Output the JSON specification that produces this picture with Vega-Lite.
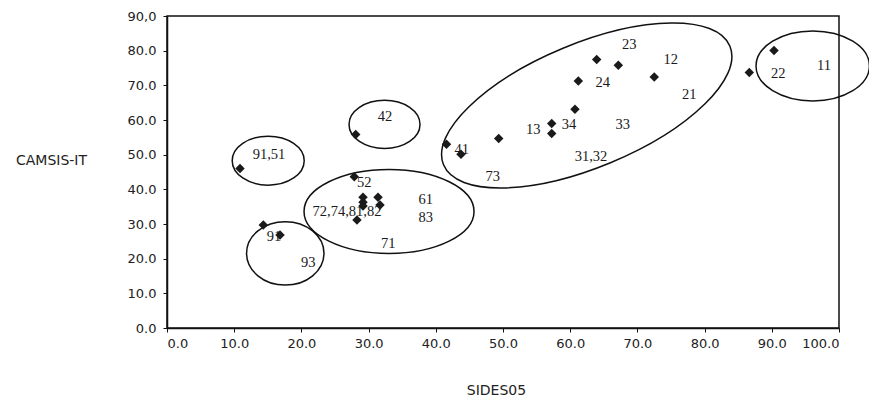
{
  "$schema": "https://vega.github.io/schema/vega-lite/v6.json",
  "autosize": "none",
  "width": 672,
  "height": 312,
  "padding": {"left": 167, "top": 16, "right": 30, "bottom": 75},
  "background": "white",
  "config": {
    "view": {"stroke": "#111", "strokeWidth": 1.5},
    "axis": {
      "grid": false,
      "domainColor": "#111",
      "domainWidth": 1.5,
      "tickColor": "#111",
      "tickSize": 4,
      "labelFont": "DejaVu Sans",
      "labelFontSize": 13,
      "labelColor": "#222",
      "titleFont": "DejaVu Sans",
      "titleFontSize": 14,
      "titleFontWeight": "normal",
      "titleColor": "#222"
    }
  },
  "datasets": {
    "points": [
      {"x": 10.86, "y": 46.02},
      {"x": 28.08, "y": 55.82},
      {"x": 41.59, "y": 53.03},
      {"x": 43.75, "y": 50.14},
      {"x": 27.87, "y": 43.6},
      {"x": 29.17, "y": 37.75},
      {"x": 29.17, "y": 36.31},
      {"x": 29.17, "y": 35.16},
      {"x": 31.4, "y": 37.75},
      {"x": 31.7, "y": 35.45},
      {"x": 28.27, "y": 31.12},
      {"x": 14.33, "y": 29.68},
      {"x": 16.82, "y": 26.8},
      {"x": 49.36, "y": 54.67},
      {"x": 57.25, "y": 58.99},
      {"x": 57.25, "y": 56.11},
      {"x": 60.71, "y": 63.11},
      {"x": 61.21, "y": 71.27},
      {"x": 63.94, "y": 77.44},
      {"x": 67.16, "y": 75.79},
      {"x": 72.51, "y": 72.42},
      {"x": 86.65, "y": 73.69},
      {"x": 90.33, "y": 80.03}
    ],
    "labels": [
      {"label": "91,51", "x": 15.18, "y": 49.86},
      {"label": "42", "x": 32.44, "y": 60.89},
      {"label": "41", "x": 43.85, "y": 51.3},
      {"label": "73", "x": 48.47, "y": 43.6},
      {"label": "13", "x": 54.51, "y": 57.06},
      {"label": "34", "x": 59.82, "y": 58.5},
      {"label": "33", "x": 67.81, "y": 58.5},
      {"label": "31,32", "x": 63.1, "y": 49.37},
      {"label": "24", "x": 64.84, "y": 70.69},
      {"label": "23", "x": 68.79, "y": 81.76},
      {"label": "12", "x": 74.96, "y": 77.23},
      {"label": "21", "x": 77.72, "y": 67.15},
      {"label": "22", "x": 90.97, "y": 73.4},
      {"label": "11", "x": 97.77, "y": 75.5},
      {"label": "52", "x": 29.36, "y": 41.7},
      {"label": "72,74,81,82", "x": 26.79, "y": 33.52},
      {"label": "61", "x": 38.5, "y": 36.89},
      {"label": "83", "x": 38.5, "y": 31.61},
      {"label": "71", "x": 32.93, "y": 24.12},
      {"label": "91", "x": 15.92, "y": 26.31},
      {"label": "93", "x": 21.03, "y": 18.65}
    ]
  },
  "encoding": {
    "x": {
      "field": "x",
      "type": "quantitative",
      "scale": {"domain": [0, 100], "nice": false, "zero": false},
      "axis": {
        "values": [0, 10, 20, 30, 40, 50, 60, 70, 80, 90, 100],
        "format": ".1f",
        "labelPadding": 5,
        "title": "SIDES05",
        "titleX": 329,
        "titleY": 62,
        "titleBaseline": "middle",
        "titleAlign": "center"
      }
    },
    "y": {
      "field": "y",
      "type": "quantitative",
      "scale": {"domain": [0, 90], "nice": false, "zero": false},
      "axis": {
        "values": [0, 10, 20, 30, 40, 50, 60, 70, 80, 90],
        "labelExpr": "datum.value == 90 ? '90,0' : format(datum.value, '.1f')",
        "labelPadding": 7,
        "title": "CAMSIS-IT",
        "titleAngle": 0,
        "titleX": -116,
        "titleY": 144,
        "titleAlign": "center",
        "titleBaseline": "middle"
      }
    }
  },
  "layer": [
    {
      "data": {"values": [{"x": 15.06, "y": 48.27}]},
      "mark": {"type": "point", "filled": false, "stroke": "#111", "strokeWidth": 1.5, "opacity": 1, "size": 5184,
        "shape": "M -1 0 C -1 -0.3756 -0.5523 -0.68 0 -0.68 C 0.5523 -0.68 1 -0.3756 1 0 C 1 0.3756 0.5523 0.68 0 0.68 C -0.5523 0.68 -1 0.3756 -1 0 Z"}
    },
    {
      "data": {"values": [{"x": 32.37, "y": 58.73}]},
      "mark": {"type": "point", "filled": false, "stroke": "#111", "strokeWidth": 1.5, "opacity": 1, "size": 5041,
        "shape": "M -1 0 C -1 -0.3756 -0.5523 -0.68 0 -0.68 C 0.5523 -0.68 1 -0.3756 1 0 C 1 0.3756 0.5523 0.68 0 0.68 C -0.5523 0.68 -1 0.3756 -1 0 Z"}
    },
    {
      "data": {"values": [{"x": 17.6, "y": 21.53}]},
      "mark": {"type": "point", "filled": false, "stroke": "#111", "strokeWidth": 1.5, "opacity": 1, "size": 5991,
        "shape": "M -1 0 C -1 -0.4529 -0.5523 -0.82 0 -0.82 C 0.5523 -0.82 1 -0.4529 1 0 C 1 0.4529 0.5523 0.82 0 0.82 C -0.5523 0.82 -1 0.4529 -1 0 Z"}
    },
    {
      "data": {"values": [{"x": 33.04, "y": 33.63}]},
      "mark": {"type": "point", "filled": false, "stroke": "#111", "strokeWidth": 1.5, "opacity": 1, "size": 28900,
        "shape": "M -1 0 C -1 -0.2728 -0.5523 -0.494 0 -0.494 C 0.5523 -0.494 1 -0.2728 1 0 C 1 0.2728 0.5523 0.494 0 0.494 C -0.5523 0.494 -1 0.2728 -1 0 Z"}
    },
    {
      "data": {"values": [{"x": 96.09, "y": 75.59}]},
      "mark": {"type": "point", "filled": false, "stroke": "#111", "strokeWidth": 1.5, "opacity": 1, "size": 12859,
        "shape": "M -1 0 C -1 -0.3408 -0.5523 -0.617 0 -0.617 C 0.5523 -0.617 1 -0.3408 1 0 C 1 0.3408 0.5523 0.617 0 0.617 C -0.5523 0.617 -1 0.3408 -1 0 Z"}
    },
    {
      "data": {"values": [{"x": 62.46, "y": 64.18}]},
      "mark": {"type": "point", "filled": false, "stroke": "#111", "strokeWidth": 1.5, "opacity": 1, "size": 96100, "angle": -22.5,
        "shape": "M -1 0 C -1 -0.2209 -0.5523 -0.4 0 -0.4 C 0.5523 -0.4 1 -0.2209 1 0 C 1 0.2209 0.5523 0.4 0 0.4 C -0.5523 0.4 -1 0.2209 -1 0 Z"}
    },
    {
      "data": {"name": "points"},
      "mark": {"type": "point", "shape": "diamond", "filled": true, "color": "#1a1a1a", "opacity": 1, "size": 90}
    },
    {
      "data": {"name": "labels"},
      "mark": {"type": "text", "font": "Liberation Serif", "fontSize": 14.5, "color": "#1a1a1a", "align": "center", "baseline": "middle"},
      "encoding": {"text": {"field": "label"}}
    }
  ]
}
